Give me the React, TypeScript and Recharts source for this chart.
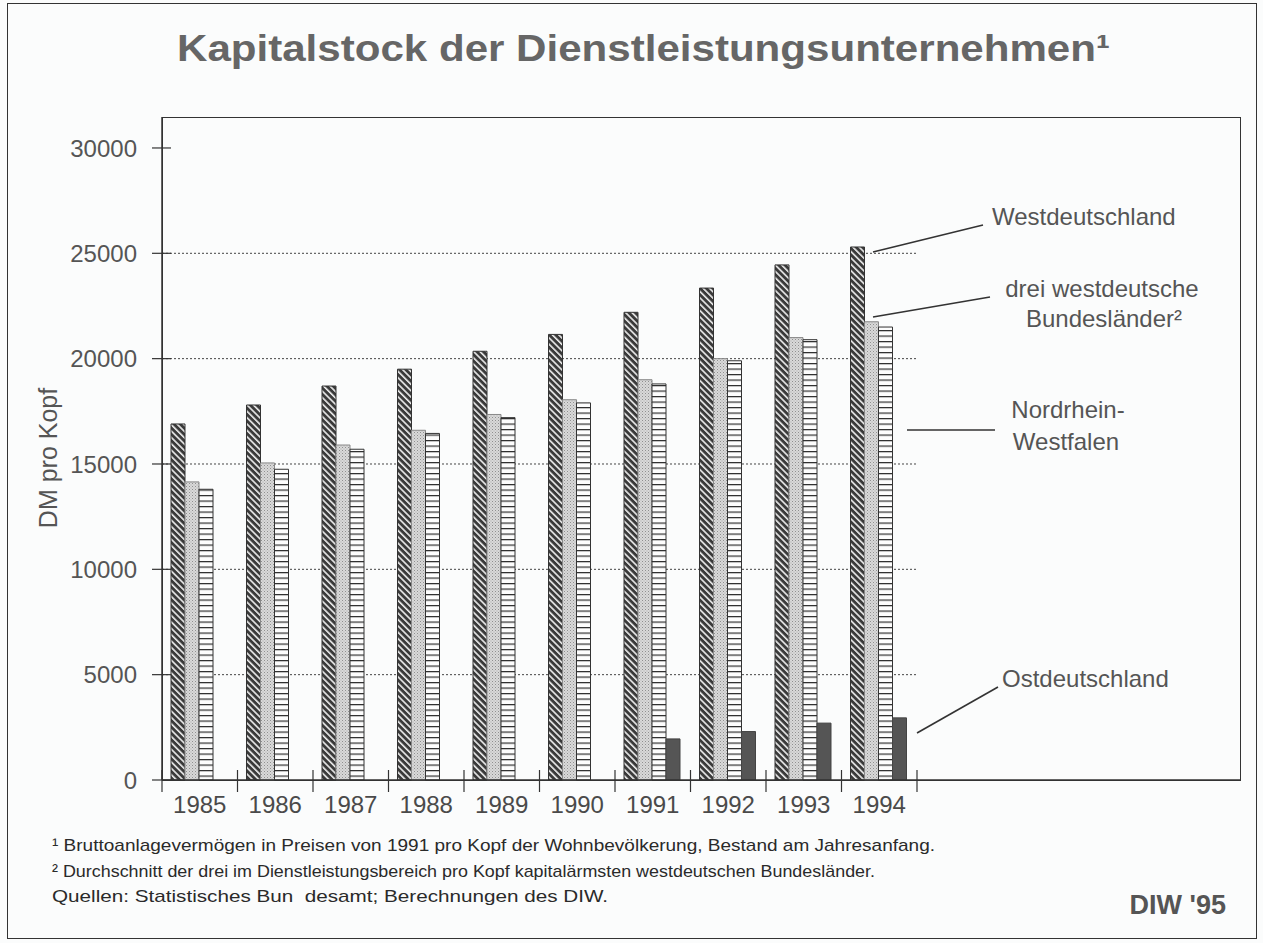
import React from 'react';
import { BarChart, Bar, XAxis, YAxis, CartesianGrid } from 'recharts';

// ---- data ----
const years = ['1985', '1986', '1987', '1988', '1989', '1990', '1991', '1992', '1993', '1994'];
const westdeutschland = [16900, 17800, 18700, 19500, 20350, 21150, 22200, 23350, 24450, 25300];
const dreiLaender = [14150, 15050, 15900, 16600, 17350, 18050, 19000, 20000, 21000, 21750];
const nordrheinWestfalen = [13800, 14750, 15700, 16450, 17200, 17900, 18800, 19900, 20900, 21500];
const ostdeutschland: (number | null)[] = [null, null, null, null, null, null, 1950, 2300, 2700, 2950];
const yTicks = [0, 5000, 10000, 15000, 20000, 25000, 30000];
const gridValues = [5000, 10000, 15000, 20000, 25000];

const title = 'Kapitalstock der Dienstleistungsunternehmen¹';
const yLabel = 'DM pro Kopf';
const footnotes = [
  '¹ Bruttoanlagevermögen in Preisen von 1991 pro Kopf der Wohnbevölkerung, Bestand am Jahresanfang.',
  '² Durchschnitt der drei im Dienstleistungsbereich pro Kopf kapitalärmsten westdeutschen Bundesländer.',
  'Quellen: Statistisches Bun  desamt; Berechnungen des DIW.',
];
const credit = "DIW '95";

const data = years.map((year, i) => ({
  year,
  west: westdeutschland[i],
  drei: dreiLaender[i],
  nrw: nordrheinWestfalen[i],
  ost: ostdeutschland[i],
}));

// ---- layout ----
const W = 1263;
const H = 943;
const PLOT_LEFT = 162;
const PLOT_TOP = 117;
const PLOT_RIGHT = 1240;
const PLOT_BOTTOM = 780;
const PLOT_W = PLOT_RIGHT - PLOT_LEFT;
const PAD_R = 323;
const BAND = (PLOT_W - PAD_R) / years.length;
const FONT = 'Arial, "Liberation Sans", Helvetica, sans-serif';

const XTick = (props: any) => {
  const { x, y, payload, index } = props;
  const half = BAND / 2;
  return (
    <g>
      <line x1={x - half} x2={x - half} y1={y - 10} y2={y + 12} stroke="#333" strokeWidth={1.2} />
      {index === years.length - 1 && (
        <line x1={x + half} x2={x + half} y1={y - 10} y2={y + 12} stroke="#333" strokeWidth={1.2} />
      )}
      <text x={x} y={y + 33} textAnchor="middle" fontSize={24} fill="#4a4a4a" fontFamily={FONT}>
        {payload.value}
      </text>
    </g>
  );
};

const YTick = (props: any) => {
  const { x, y, payload } = props;
  return (
    <g>
      <line x1={x - 10} x2={x + 9} y1={y} y2={y} stroke="#333" strokeWidth={1.2} />
      <text x={x - 25} y={y} dy="0.36em" textAnchor="end" fontSize={24} fill="#555" fontFamily={FONT}>
        {payload.value}
      </text>
    </g>
  );
};

export default function App() {
  return (
    <div style={{ position: 'relative', width: W, height: H, background: '#fbfcfc', overflow: 'hidden' }}>
      <style>{'body{margin:0;}'}</style>
      <svg width={0} height={0} style={{ position: 'absolute' }}>
        <defs>
          <pattern id="pWest" patternUnits="userSpaceOnUse" width={4.5} height={4.5} patternTransform="rotate(-45)">
            <rect width={4.5} height={4.5} fill="#3a3a3a" />
            <rect x={0} y={0} width={1.6} height={4.5} fill="#eeeeee" />
          </pattern>
          <pattern id="pDrei" patternUnits="userSpaceOnUse" width={3} height={3}>
            <rect width={3} height={3} fill="#d9d9d9" />
            <rect x={0} y={0} width={1} height={1} fill="#8f8f8f" />
            <rect x={1.5} y={1.5} width={1} height={1} fill="#ababab" />
          </pattern>
          <pattern id="pNrw" patternUnits="userSpaceOnUse" width={6} height={5.5}>
            <rect width={6} height={5.5} fill="#fdfdfd" />
            <rect x={0} y={0} width={6} height={1.2} fill="#2a2a2a" />
          </pattern>
        </defs>
      </svg>

      {/* outer frame */}
      <div
        style={{
          position: 'absolute',
          left: 7,
          top: 3,
          width: 1250,
          height: 936,
          border: '1.5px solid #333',
          boxSizing: 'border-box',
        }}
      />
      {/* plot frame */}
      <div
        style={{
          position: 'absolute',
          left: PLOT_LEFT,
          top: PLOT_TOP,
          width: PLOT_W + 1,
          height: PLOT_BOTTOM - PLOT_TOP + 1,
          border: '1.5px solid #333',
          boxSizing: 'border-box',
        }}
      />

      <div style={{ position: 'absolute', left: 0, top: 0 }}>
        <BarChart
          width={W}
          height={H}
          data={data}
          margin={{ top: PLOT_TOP, right: W - PLOT_RIGHT, bottom: H - PLOT_BOTTOM - 40, left: 0 }}
          barCategoryGap={9}
          barGap={0}
        >
          <CartesianGrid
            vertical={false}
            horizontalValues={gridValues}
            x={PLOT_LEFT}
            width={PLOT_W - PAD_R}
            stroke="#444"
            strokeDasharray="2 2"
            strokeWidth={1}
          />
          <XAxis
            dataKey="year"
            height={40}
            padding={{ left: 0, right: PAD_R }}
            interval={0}
            tickLine={false}
            tickSize={0}
            tickMargin={0}
            axisLine={{ stroke: '#333', strokeWidth: 1.5 }}
            tick={<XTick />}
          />
          <YAxis
            width={PLOT_LEFT}
            domain={[0, 31470]}
            ticks={yTicks}
            interval={0}
            tickLine={false}
            tickSize={0}
            tickMargin={0}
            axisLine={{ stroke: '#333', strokeWidth: 1.5 }}
            tick={<YTick />}
          />
          <Bar dataKey="west" name="Westdeutschland" fill="url(#pWest)" stroke="#333" strokeWidth={1} isAnimationActive={false} />
          <Bar dataKey="drei" name="drei westdeutsche Bundesländer²" fill="url(#pDrei)" stroke="#888" strokeWidth={1} isAnimationActive={false} />
          <Bar dataKey="nrw" name="Nordrhein-Westfalen" fill="url(#pNrw)" stroke="#333" strokeWidth={1} isAnimationActive={false} />
          <Bar dataKey="ost" name="Ostdeutschland" fill="#555" stroke="#444" strokeWidth={1} isAnimationActive={false} />
        </BarChart>
      </div>

      {/* text overlay */}
      <svg width={W} height={H} style={{ position: 'absolute', left: 0, top: 0, pointerEvents: 'none' }} fontFamily={FONT}>
        <text x={177} y={61} fontSize={37} fontWeight="bold" fill="#666" textLength={933} lengthAdjust="spacingAndGlyphs">
          {title}
        </text>

        <text transform="translate(57,458) rotate(-90)" textAnchor="middle" fontSize={25} fill="#555">
          {yLabel}
        </text>

        {/* annotations */}
        <g stroke="#333" strokeWidth={1.6}>
          <line x1={873} y1={252} x2={983} y2={225} />
          <line x1={873} y1={317} x2={990} y2={297} />
          <line x1={907} y1={430} x2={995} y2={430} />
          <line x1={917} y1={733} x2={998} y2={687} />
        </g>
        <g fontSize={24} fill="#555">
          <text x={992} y={225}>Westdeutschland</text>
          <text x={1102} y={297} textAnchor="middle">drei westdeutsche</text>
          <text x={1104} y={327} textAnchor="middle">Bundesländer²</text>
          <text x={1068} y={418} textAnchor="middle">Nordrhein-</text>
          <text x={1066} y={450} textAnchor="middle">Westfalen</text>
          <text x={1002} y={687}>Ostdeutschland</text>
        </g>

        {/* footnotes */}
        <g fontSize={17} fill="#2a2a2a">
          <text x={52} y={851} textLength={883} lengthAdjust="spacingAndGlyphs">{footnotes[0]}</text>
          <text x={52} y={877} textLength={823} lengthAdjust="spacingAndGlyphs">{footnotes[1]}</text>
          <text x={52} y={902} textLength={556} lengthAdjust="spacingAndGlyphs" style={{ whiteSpace: 'pre' }}>{footnotes[2]}</text>
        </g>
        <text x={1226} y={914} textAnchor="end" fontSize={27} fontWeight="bold" fill="#555">{credit}</text>
      </svg>
    </div>
  );
}
